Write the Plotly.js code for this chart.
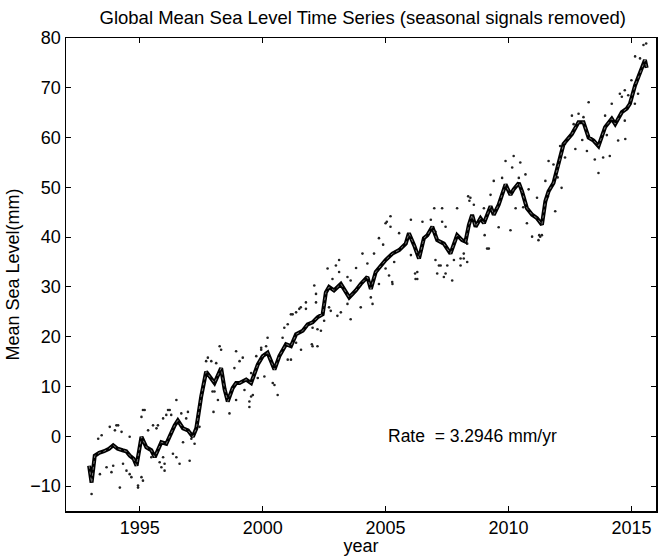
<!DOCTYPE html>
<html>
<head>
<meta charset="utf-8">
<script src="https://cdn.plot.ly/plotly-3.0.1.min.js"></script>
<style>html,body{margin:0;padding:0;background:#fff;}#chart{width:658px;height:556px;}</style>
</head>
<body>
<div id="chart"></div>
<script>
// Smoothed series (year, mm)
const lineYears = [1992.94,1993.04,1993.17,1993.35,1993.55,1993.75,1993.92,1994.1,1994.3,1994.45,1994.6,1994.75,1994.87,1995.0,1995.07,1995.27,1995.47,1995.61,1995.75,1995.88,1996.08,1996.25,1996.42,1996.55,1996.76,1996.96,1997.16,1997.3,1997.5,1997.7,1997.85,1998.04,1998.31,1998.45,1998.58,1998.78,1998.92,1999.06,1999.33,1999.53,1999.8,2000.0,2000.2,2000.48,2000.68,2000.95,2001.15,2001.36,2001.63,2001.83,2002.03,2002.23,2002.44,2002.57,2002.7,2002.9,2003.18,2003.52,2003.79,2003.99,2004.26,2004.4,2004.6,2004.8,2005.0,2005.28,2005.55,2005.82,2005.95,2006.16,2006.36,2006.56,2006.7,2006.9,2007.1,2007.37,2007.64,2007.91,2008.11,2008.25,2008.39,2008.52,2008.66,2008.86,2009.0,2009.27,2009.4,2009.6,2009.88,2010.08,2010.21,2010.42,2010.55,2010.75,2010.96,2011.16,2011.36,2011.5,2011.63,2011.83,2012.04,2012.24,2012.58,2012.85,2013.05,2013.26,2013.46,2013.66,2013.93,2014.2,2014.34,2014.61,2014.81,2014.94,2015.15,2015.35,2015.55,2015.62];
const lineValues = [-5.9,-9.3,-3.9,-3.3,-3.0,-2.5,-1.8,-2.5,-2.8,-3.0,-3.9,-4.5,-5.9,-2.5,-0.1,-2.2,-2.8,-4.2,-2.5,-1.2,-1.5,0.5,2.2,3.2,1.6,1.2,-0.1,1.6,8.0,13.0,12.0,10.7,13.7,9.5,7.0,9.7,10.7,10.7,11.4,10.7,14.4,16.1,16.8,13.4,16.1,18.5,18.1,20.5,21.2,22.5,22.9,23.9,24.5,28.9,30.0,29.3,30.6,27.9,29.3,30.6,32.0,29.6,33.0,34.3,35.4,36.7,37.4,38.7,40.8,38.4,35.7,39.8,40.4,42.1,39.4,38.7,36.7,40.4,39.4,39.1,42.5,44.5,42.1,43.8,42.8,46.2,44.5,46.5,50.6,48.5,49.6,50.9,49.2,45.8,44.5,43.8,42.5,47.2,49.2,50.9,54.6,58.7,60.7,63.1,63.1,60.0,59.4,58.3,62.1,63.8,62.7,65.1,65.8,66.8,70.5,72.9,75.6,74.0];

// Individual measurements (year, mm)
const dotYears = [1993.04,1993.31,1993.45,1993.38,1993.65,1993.85,1993.78,1993.99,1994.12,1994.26,1994.19,1993.92,1994.32,1994.46,1994.59,1994.66,1994.59,1994.93,1995.07,1995.13,1995.07,1995.2,1995.34,1995.47,1995.68,1995.74,1995.81,1995.88,1996.01,1996.15,1996.28,1996.49,1996.35,1996.49,1996.62,1996.96,1996.89,1997.1,1997.23,1997.03,1997.77,1997.7,
1994.05,1995.13,1994.93,1995.54,1995.95,1996.08,1996.22,1995.95,1996.01,1996.69,1996.76,1997.43,
1998.25,1998.31,1998.11,1997.91,1998.92,1998.85,1999.06,1997.96,1998.04,1998.18,1998.65,1998.92,1999.26,1999.46,1999.6,1999.53,1999.74,1999.94,2000.14,2000.2,1999.8,2000.07,2000.41,2000.61,2000.36,
1998.0,1999.46,1999.53,1999.19,1999.94,2000.48,2000.88,2001.02,2001.15,2001.36,2001.49,2001.02,2001.36,2001.56,2001.76,2002.1,2002.17,2002.03,2002.23,2002.23,2002.64,2002.5,
2000.81,2001.15,2001.22,2001.55,2001.76,2002.03,2002.17,2002.37,2002.0,2002.7,2002.84,2003.11,2003.11,2002.77,2003.04,2003.18,2003.45,2003.58,2003.45,2003.58,2003.99,2004.06,2004.26,2004.53,2004.4,2004.73,2005.0,2005.14,2005.27,2005.35,2005.55,2006.03,2005.0,2006.03,2006.29,2006.22,2007.03,2007.03,2007.17,2007.3,2007.71,2007.78,2008.05,2008.32,2008.39,
2002.98,2004.73,2005.05,2005.2,2005.2,2006.5,2006.84,2006.98,2007.3,2007.44,2006.2,2006.29,2007.1,2007.51,2004.47,2005.28,
2007.24,2007.44,2008.05,2008.18,2008.45,2008.59,2009.0,2009.27,2009.4,2009.74,2009.88,2010.21,2010.15,2010.48,2010.42,2010.69,2010.82,2011.16,2011.5,2007.91,2009.2,2009.03,2010.08,2010.29,2010.75,2010.96,2011.22,2011.29,2007.37,
2015.49,2015.35,2015.15,2015.0,2014.73,2014.87,2014.53,2014.61,2014.2,2013.93,2013.26,2012.85,2013.05,2012.58,2012.65,2012.1,2011.63,2011.83,2015.27,2015.14,2014.73,2014.75,2014.46,2014.12,2013.85,2013.51,2013.19,2012.72,2012.3,2012.3,2013.66,2012.16,2011.6,2011.9,
2008.18,2008.32,2009.13,2011.25,2011.36,2008.36,2008.41,2015.6,2013.0,2012.0,2003.8,2004.9,2009.6,2010.6,2014.0];
const dotValues = [-11.6,-0.5,0.2,-7.6,-6.2,-7.2,1.9,1.2,2.2,0.9,-10.3,-5.9,-5.5,-6.9,-7.6,-8.2,-0.1,-10.3,-8.2,-8.9,3.9,5.3,1.2,-4.2,1.6,2.2,-5.2,-6.2,-5.5,5.3,4.3,7.3,-3.5,-4.2,-5.5,4.9,3.6,-0.5,-1.5,-4.9,15.8,15.1,
2.2,5.3,-9.9,2.2,3.6,4.3,5.3,-4.2,-6.9,4.6,-1.2,1.9,
18.1,17.4,14.7,15.1,17.1,13.7,15.1,9.0,9.0,7.3,4.6,7.3,9.3,7.0,8.3,12.7,16.1,17.8,18.1,19.8,11.7,12.0,10.7,8.3,14.7,
4.9,5.9,8.0,15.8,17.4,10.3,21.8,22.5,24.5,24.9,25.6,15.4,18.8,17.4,26.9,30.3,28.6,18.1,18.1,21.5,33.7,23.2,
19.8,15.4,24.5,25.9,25.6,21.8,26.9,21.2,18.5,25.9,31.6,35.4,33.0,25.2,24.2,24.9,32.0,31.3,26.6,23.5,25.9,36.7,34.7,36.7,27.9,30.6,33.7,32.3,31.0,35.0,40.8,43.5,42.8,36.4,33.0,31.6,35.4,41.1,34.3,43.1,31.3,35.4,35.7,38.7,42.1,
34.3,39.8,43.1,44.2,42.1,43.1,43.5,45.8,45.8,42.1,32.7,31.6,32.7,34.3,26.6,30.6,
34.3,32.7,34.3,35.7,47.9,46.5,45.8,48.5,51.3,51.9,55.3,56.3,54.0,55.0,51.9,52.6,49.6,47.9,51.3,45.8,37.7,40.4,41.4,45.8,42.8,40.1,39.4,40.1,32.0,
78.6,75.9,76.3,71.5,69.5,68.5,68.8,68.2,66.8,64.4,67.1,64.8,64.1,64.4,62.7,58.3,55.3,54.6,68.8,66.8,63.4,59.7,59.4,56.3,56.0,55.6,57.3,57.7,58.7,56.0,52.9,49.9,48.2,45.2,
36.7,35.0,37.7,40.4,40.4,48.2,47.3,78.9,59.5,52.0,33.8,38.5,42.0,46.0,60.5];

const xTicks = [1995, 2000, 2005, 2010, 2015];
const yTicks = [-10, 0, 10, 20, 30, 40, 50, 60, 70, 80];
const titleText = 'Global Mean Sea Level Time Series (seasonal signals removed)';
const xTitle = 'year';
const yTitle = 'Mean Sea Level(mm)';
const rateText = 'Rate  = 3.2946 mm/yr';

const font = 'Liberation Sans, Arial, sans-serif';

const traces = [
  {x: dotYears, y: dotValues, type: 'scatter', mode: 'markers',
   marker: {color: '#222', size: 2.6}, hoverinfo: 'skip', showlegend: false},
  {x: lineYears, y: lineValues, type: 'scatter', mode: 'lines',
   line: {color: '#000', width: 4}, showlegend: false},
  {x: lineYears, y: lineValues, type: 'scatter', mode: 'lines',
   line: {color: '#7a7a7a', width: 1, dash: 'dot'}, showlegend: false}
];

const axisCommon = {
  showgrid: false, zeroline: false, showline: true, linecolor: '#000', linewidth: 1.5,
  mirror: 'ticks', ticks: 'inside', ticklen: 5, tickcolor: '#000', tickwidth: 1,
  tickfont: {family: font, size: 18, color: '#000'}
};

const layout = {
  width: 658, height: 556,
  margin: {l: 66, r: 2, t: 38, b: 45},
  paper_bgcolor: '#fff', plot_bgcolor: '#fff',
  font: {family: font, color: '#000'},
  title: {text: titleText, font: {family: font, size: 18.5, color: '#000'},
          x: 0.503, xref: 'paper', xanchor: 'center', y: 0.968, yanchor: 'middle'},
  xaxis: Object.assign({}, axisCommon, {
    range: [1992, 2016], tickvals: xTicks, ticktext: xTicks.map(String),
    title: {text: xTitle, font: {family: font, size: 18, color: '#000'}, standoff: 0}
  }),
  yaxis: Object.assign({}, axisCommon, {
    range: [-15, 80], tickvals: yTicks, ticktext: yTicks.map(v => v < 0 ? '\u2212' + Math.abs(v) : String(v)),
    title: {text: yTitle, font: {family: font, size: 18, color: '#000'}, standoff: 6}
  }),
  annotations: [{
    x: 2005, y: 0, xref: 'x', yref: 'y', text: rateText, showarrow: false,
    xanchor: 'left', yanchor: 'middle', font: {family: font, size: 17.5, color: '#000'}
  }]
};

Plotly.newPlot('chart', traces, layout, {displayModeBar: false, staticPlot: true});
</script>
</body>
</html>
